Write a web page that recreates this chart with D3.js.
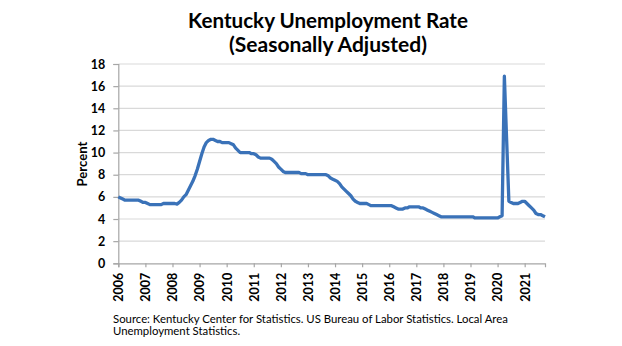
<!DOCTYPE html>
<html>
<head>
<meta charset="utf-8">
<script src="https://cdn.jsdelivr.net/npm/d3@7/dist/d3.min.js"></script>
<style>
  html, body { margin: 0; padding: 0; background: #fff; }
  svg { display: block; font-family: Lato, "Noto Sans", sans-serif; }
</style>
</head>
<body>
<svg id="chart" width="622" height="346"></svg>
<script>
// Kentucky monthly unemployment rate, seasonally adjusted, Jan 2006 - Oct 2021
const startYear = 2006;
const yearLabels = ["2006","2007","2008","2009","2010","2011","2012","2013","2014","2015","2016","2017","2018","2019","2020","2021"];
const yTicks = [0, 2, 4, 6, 8, 10, 12, 14, 16, 18];
const rate = [
  // 2006
  6.0, 5.9, 5.8, 5.7, 5.7, 5.7, 5.7, 5.7, 5.7, 5.7, 5.6, 5.5,
  // 2007
  5.5, 5.4, 5.3, 5.3, 5.3, 5.3, 5.3, 5.3, 5.4, 5.4, 5.4, 5.4,
  // 2008
  5.4, 5.4, 5.35, 5.5, 5.7, 6.0, 6.2, 6.6, 7.0, 7.4, 7.9, 8.5,
  // 2009
  9.2, 9.9, 10.5, 10.9, 11.1, 11.2, 11.2, 11.1, 11.0, 11.0, 10.9, 10.9,
  // 2010
  10.9, 10.9, 10.8, 10.7, 10.4, 10.2, 10.0, 10.0, 10.0, 10.0, 10.0, 9.9,
  // 2011
  9.9, 9.8, 9.6, 9.5, 9.5, 9.5, 9.5, 9.5, 9.4, 9.2, 9.0, 8.7,
  // 2012
  8.5, 8.3, 8.2, 8.2, 8.2, 8.2, 8.2, 8.2, 8.2, 8.1, 8.1, 8.1,
  // 2013
  8.0, 8.0, 8.0, 8.0, 8.0, 8.0, 8.0, 8.0, 8.0, 7.9, 7.7, 7.6,
  // 2014
  7.5, 7.4, 7.2, 6.9, 6.7, 6.5, 6.3, 6.1, 5.8, 5.6, 5.5, 5.4,
  // 2015
  5.4, 5.4, 5.4, 5.3, 5.2, 5.2, 5.2, 5.2, 5.2, 5.2, 5.2, 5.2,
  // 2016
  5.2, 5.2, 5.1, 5.0, 4.9, 4.9, 4.9, 5.0, 5.0, 5.1, 5.1, 5.1,
  // 2017
  5.1, 5.1, 5.0, 5.0, 4.9, 4.8, 4.7, 4.6, 4.5, 4.4, 4.3, 4.2,
  // 2018
  4.2, 4.2, 4.2, 4.2, 4.2, 4.2, 4.2, 4.2, 4.2, 4.2, 4.2, 4.2,
  // 2019
  4.2, 4.2, 4.1, 4.1, 4.1, 4.1, 4.1, 4.1, 4.1, 4.1, 4.1, 4.1,
  // 2020
  4.1, 4.2, 4.3, 16.9, 11.2, 5.6, 5.5, 5.4, 5.4, 5.4, 5.5, 5.6,
  // 2021
  5.6, 5.4, 5.2, 5.0, 4.8, 4.5, 4.4, 4.4, 4.3, 4.2
];

const svg = d3.select("#chart");
const plot = { left: 118.3, right: 545, top: 64, bottom: 263.3 };

const x = d3.scaleLinear().domain([0, rate.length - 1]).range([plot.left, plot.right]);
const y = d3.scaleLinear().domain([0, 18]).range([plot.bottom, plot.top]);

// scale a text element's font so its rendered width matches a target
function fitWidth(sel, target) {
  const node = sel.node();
  const fs = parseFloat(sel.attr("font-size"));
  const w = node.getComputedTextLength();
  if (w > 0) sel.attr("font-size", (fs * target / w).toFixed(2));
}

// title
const t1 = svg.append("text").attr("x", 328).attr("y", 28)
  .attr("text-anchor", "middle").attr("font-weight", "bold")
  .attr("font-size", 20).attr("fill", "#000").text("Kentucky Unemployment Rate");
fitWidth(t1, 280);
const t2 = svg.append("text").attr("x", 328).attr("y", 52)
  .attr("text-anchor", "middle").attr("font-weight", "bold")
  .attr("font-size", 20).attr("fill", "#000").text("(Seasonally Adjusted)");
fitWidth(t2, 198);

// horizontal gridlines
svg.append("g").selectAll("line")
  .data(yTicks.filter(d => d > 0))
  .join("line")
  .attr("x1", plot.left).attr("x2", plot.right)
  .attr("y1", d => y(d)).attr("y2", d => y(d))
  .attr("stroke", "#d9d9d9").attr("stroke-width", 1.2);

// y axis
const yAxis = svg.append("g")
  .attr("transform", `translate(${plot.left},0)`)
  .call(d3.axisLeft(y).tickValues(yTicks).tickSize(5).tickPadding(8));
yAxis.select(".domain").attr("stroke", "#a6a6a6").attr("stroke-width", 1.2);
yAxis.selectAll(".tick line").attr("stroke", "#a6a6a6").attr("stroke-width", 1.2);
yAxis.selectAll(".tick text")
  .attr("font-family", "Lato, sans-serif")
  .attr("font-size", 12.5).attr("font-weight", "bold").attr("fill", "#000");

// x axis, one label per January
const yearIdx = yearLabels.map((_, i) => i * 12);
const xAxis = svg.append("g")
  .attr("transform", `translate(0,${plot.bottom})`)
  .call(d3.axisBottom(x).tickValues(yearIdx).tickSize(4)
    .tickFormat((d) => yearLabels[d / 12]));
xAxis.select(".domain").attr("stroke", "#a6a6a6").attr("stroke-width", 1.2);
xAxis.selectAll(".tick line").attr("stroke", "#a6a6a6").attr("stroke-width", 1.2);
xAxis.selectAll(".tick text")
  .attr("font-family", "Lato, sans-serif")
  .attr("font-size", 12.5).attr("font-weight", "bold").attr("fill", "#000")
  .attr("text-anchor", "end")
  .attr("dy", "0.35em")
  .attr("transform", "translate(0,9.5) rotate(-90)")
  .attr("x", 0).attr("y", 0);

// y axis title
const yTitle = svg.append("text")
  .attr("transform", "translate(87,164) rotate(-90)")
  .attr("text-anchor", "middle")
  .attr("font-size", 12.5).attr("font-weight", "bold").attr("fill", "#000")
  .text("Percent");
fitWidth(yTitle, 45);

// the series line
svg.append("path")
  .datum(rate)
  .attr("fill", "none")
  .attr("stroke", "#3a72b8")
  .attr("stroke-width", 3.3)
  .attr("stroke-linejoin", "round")
  .attr("d", d3.line().x((d, i) => x(i)).y(d => y(d)));

// source note
const s1 = svg.append("text").attr("x", 113).attr("y", 323)
  .attr("font-size", 11).attr("fill", "#000")
  .text("Source: Kentucky Center for Statistics. US Bureau of Labor Statistics. Local Area");
fitWidth(s1, 395);
svg.append("text").attr("x", 113).attr("y", 335)
  .attr("font-size", s1.attr("font-size")).attr("fill", "#000")
  .text("Unemployment Statistics.");
</script>
</body>
</html>
